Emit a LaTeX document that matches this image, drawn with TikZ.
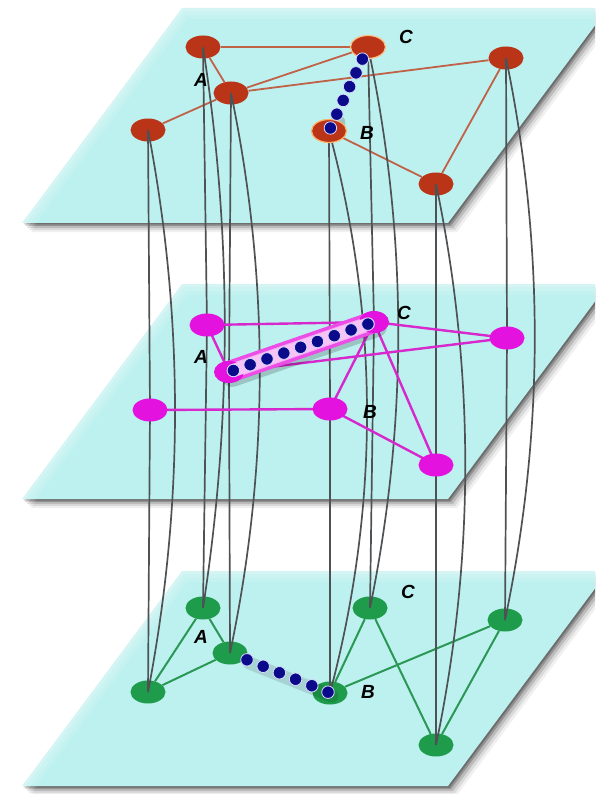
\documentclass[tikz,border=0pt]{standalone}
\usepackage{fontspec}
\setmainfont{Liberation Sans}
\usetikzlibrary{shapes.geometric,calc}

\definecolor{planefill}{RGB}{189,241,239}
\definecolor{rednode}{RGB}{186,52,24}
\definecolor{rededge}{RGB}{192,98,72}
\definecolor{magnode}{RGB}{228,18,222}
\definecolor{magedge}{RGB}{214,40,204}
\definecolor{grnnode}{RGB}{30,156,76}
\definecolor{grnedge}{RGB}{42,152,84}
\definecolor{dotblue}{RGB}{10,10,138}
\definecolor{linkgray}{RGB}{78,82,84}

\tikzset{
  vnode/.style={ellipse, minimum width=35pt, minimum height=23pt, inner sep=0pt},
  rnode/.style={vnode, fill=rednode},
  mnode/.style={vnode, fill=magnode},
  gnode/.style={vnode, fill=grnnode},
  redge/.style={draw=rededge, line width=1.8pt},
  medge/.style={draw=magedge, line width=2.4pt},
  gedge/.style={draw=grnedge, line width=2pt},
  vline/.style={draw=linkgray, line width=1.7pt},
  bdot/.style={circle, fill=dotblue, draw=blue!15!white, line width=0.8pt,
               minimum size=12.5pt, inner sep=0pt},
  lbl/.style={font=\fontsize{19}{19}\selectfont\bfseries\itshape, inner sep=0pt},
  chainshadow/.style={line cap=round, draw=black, opacity=0.18},
}

% plane: parallelogram with its top edge at y = #1
\newcommand{\layerplane}[1]{%
  \foreach \o/\op in {9/0.06,7/0.09,5/0.14,3/0.22,1.5/0.25}{%
    \fill[black, opacity=\op] (182+\o,#1+\o) -- (608+\o,#1+\o) -- (448+\o,#1+215+\o) -- (22+\o,#1+215+\o) -- cycle;}%
  \fill[planefill] (182,#1) -- (608,#1) -- (448,#1+215) -- (22,#1+215) -- cycle;
  \foreach \w/\op in {22/0.10,14/0.14,6/0.2}{%
    \draw[white, line width=\w pt, opacity=\op] (22,#1+215) -- (182,#1) -- (608,#1);}%
}

\begin{document}
\begin{tikzpicture}[x=1pt, y=-1pt]
\useasboundingbox (0,0) rectangle (595,794);
\clip (0,0) rectangle (595,794);

% the three layers
\layerplane{8}
\layerplane{284}
\layerplane{571}

% ---------- top layer (red) ----------
\node[rnode] (t1) at (203,47) {};
\node[rnode] (tC) at (368,47) {};
\node[rnode] (t3) at (506,58) {};
\node[rnode] (tA) at (231,93) {};
\node[rnode] (t5) at (148,130) {};
\node[rnode] (tB) at (329,131) {};
\node[rnode] (t7) at (436,184) {};

% ---------- bottom layer (green) ----------
\node[gnode] (b1) at (203,608) {};
\node[gnode] (bC) at (370,608) {};
\node[gnode] (b3) at (505,620) {};
\node[gnode] (bA) at (230,653) {};
\node[gnode] (b5) at (148,692) {};
\node[gnode] (bB) at (330,693) {};
\node[gnode] (b7) at (436,745) {};

% ---------- middle layer positions ----------
\coordinate (m1) at (207,325);
\coordinate (mC) at (374,322);
\coordinate (m3) at (507,338);
\coordinate (mA) at (229,372);
\coordinate (m5) at (150,410);
\coordinate (mB) at (330,409);
\coordinate (m7) at (436,465);

% intra-layer links, top and bottom
\draw[redge] (t1) -- (tC);
\draw[redge] (t1) -- (tA);
\draw[redge] (tA) -- (tC);
\draw[redge] (tA) -- (t3);
\draw[redge] (tA) -- (t5);
\draw[redge] (tB) -- (t7);
\draw[redge] (t7) -- (t3);

\draw[gedge] (b1) -- (b5);
\draw[gedge] (b1) -- (bA);
\draw[gedge] (bA) -- (b5);
\draw[gedge] (bC) -- (bB);
\draw[gedge] (bC) -- (b7);
\draw[gedge] (bB) -- (b3);
\draw[gedge] (b3) -- (b7);

% ---------- inter-layer links ----------
% top -> middle
\foreach \u/\v in {t1/m1,tC/mC,t3/m3,tA/mA,t5/m5,tB/mB,t7/m7}{\draw[vline] (\u.center) -- (\v);}
% middle -> bottom
\foreach \u/\v in {m1/b1,mC/bC,m3/b3,mA/bA,m5/b5,mB/bB,m7/b7}{\draw[vline] (\u) -- (\v.center);}
% top -> bottom, bowed
\foreach \u/\v/\k in {t1/b1/29,tC/bC/39,t3/b3/39,tA/bA/39,t5/b5/36,tB/bB/50,t7/b7/39}{
  \draw[vline] (\u.center) .. controls ($(\u.center)!1/3!(\v.center)+(\k,0)$)
                           and ($(\u.center)!2/3!(\v.center)+(\k,0)$) .. (\v.center);}

% ---------- middle layer (magenta) ----------
\draw[medge] (m1) -- (mC);
\draw[medge] (m1) -- (mA);
\draw[medge] (mC) -- (m3);
\draw[medge] (mA) -- (m3);
\draw[medge] (mC) -- (mB);
\draw[medge] (mC) -- (m7);
\draw[medge] (m5) -- (mB);
\draw[medge] (mB) -- (m7);
\node[mnode] (nm1) at (m1) {};
\node[mnode] (nm3) at (m3) {};
\node[mnode] (nm5) at (m5) {};
\node[mnode] (nmB) at (mB) {};
\node[mnode] (nm7) at (m7) {};

% ---------- highlighted chains ----------
% top: B -- C
\draw[chainshadow, line width=15pt] ($(tB)+(3,4)$) -- ($(tC)!0.85!(tB)+(3,4)$);
\node[rnode, draw=orange!60!white, line width=1.2pt] at (tB) {};
\node[rnode, draw=orange!50!white, line width=1.2pt] at (tC) {};
\foreach \i in {0,...,5}{\node[bdot] (td\i) at ($(tB)!{0.036+\i*0.164}!(tC)$) {};}

% middle: A -- C
\draw[chainshadow, line width=20pt] ($(mA)+(3,5)$) -- ($(mC)+(3,5)$);
\draw[line cap=round, line width=22pt, draw=magnode!75!white] (mA) -- (mC);
\draw[line cap=round, line width=15pt, draw=magnode!35!white] (mA) -- (mC);
\node[mnode, minimum width=30pt, minimum height=22pt] (nmA) at (mA) {};
\node[mnode, minimum width=30pt, minimum height=22pt] (nmC) at (mC) {};
\draw[line cap=round, line width=13pt, draw=white!75!magnode] ($(mA)!0.03!(mC)$) -- ($(mA)!0.96!(mC)$);
\foreach \i in {0,...,8}{\node[bdot] (md\i) at ($(mA)!{0.03+\i*0.116}!(mC)$) {};}

% bottom: A -- B
\draw[chainshadow, line width=13pt, opacity=0.12] ($(bA)!0.17!(bB)+(2,3)$) -- ($(bB)+(2,3)$);
\foreach \i in {0,...,5}{\node[bdot] (bd\i) at ($(bA)!{0.17+\i*0.162}!(bB)$) {};}

% ---------- labels ----------
\node[lbl] (lAt) at (201,80) {A};
\node[lbl] (lBt) at (367,133) {B};
\node[lbl] (lCt) at (406,37) {C};
\node[lbl] (lAm) at (201,357) {A};
\node[lbl] (lBm) at (370,412) {B};
\node[lbl] (lCm) at (404,313) {C};
\node[lbl] (lAb) at (201,637) {A};
\node[lbl] (lBb) at (368,692) {B};
\node[lbl] (lCb) at (408,592) {C};
\end{tikzpicture}
\end{document}
